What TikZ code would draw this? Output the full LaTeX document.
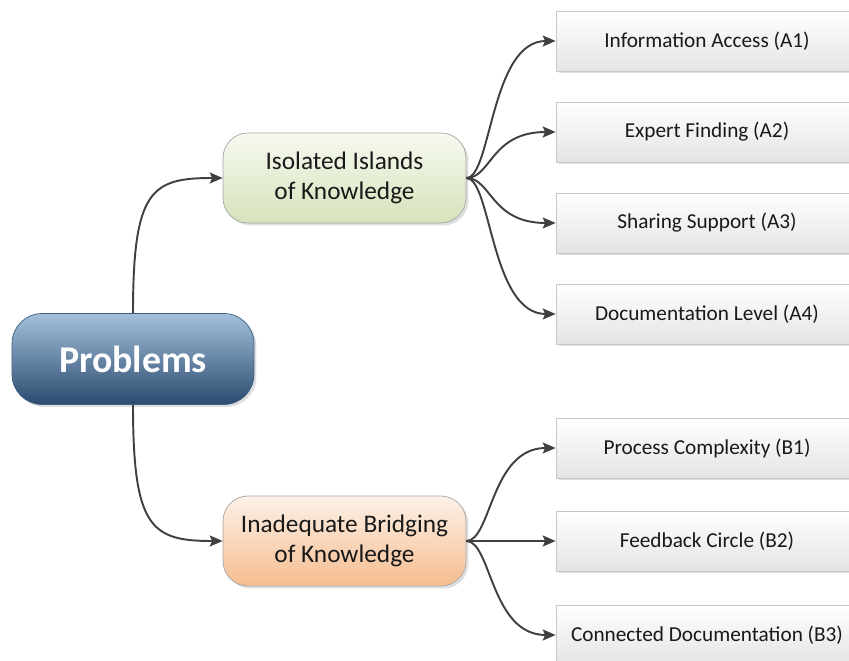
\documentclass[tikz,border=0pt]{standalone}
\usepackage{fontspec}
\setmainfont{Carlito}
\usetikzlibrary{arrows.meta,shadows}
\definecolor{probtop}{HTML}{A3BFDA}
\definecolor{probbot}{HTML}{2B4C70}
\definecolor{probline}{HTML}{3F6185}
\definecolor{isltop}{HTML}{F6F9F0}
\definecolor{islbot}{HTML}{D6E3BB}
\definecolor{inadtop}{HTML}{FDF1E7}
\definecolor{inadbot}{HTML}{F5BD90}
\definecolor{leafbot}{HTML}{E4E4E4}
\definecolor{linegray}{HTML}{404040}
\tikzset{
	shadowed/.style={drop shadow={shadow xshift=0.05cm,shadow yshift=-0.05cm,opacity=0.25}},
	rootbox/.style={shadowed,draw=probline,rounded corners=0.6cm,top color=probtop,bottom color=probbot,
		minimum width=4.84cm,minimum height=1.82cm,text=white,font=\fontsize{21.5}{26}\selectfont\bfseries},
	groupbox/.style={shadowed,draw=black!35,rounded corners=0.5cm,minimum width=4.86cm,minimum height=1.8cm,
		align=center,text=black!90,font=\fontsize{14.4}{17}\selectfont},
	leafbox/.style={shadowed,draw=black!22,top color=white,bottom color=leafbot,minimum width=6.04cm,
		minimum height=1.2cm,text=black!90,font=\fontsize{12.1}{14}\selectfont},
	conn/.style={draw=linegray,line width=1.1pt,-{Stealth[length=0.26cm,width=0.22cm,inset=0.05cm]}}
}
\begin{document}
\begin{tikzpicture}[x=0.02cm,y=0.02cm]
	\useasboundingbox (0,0) rectangle (849,660);
	% root
		\node[rootbox] (prob) at (133,301) {Problems};
	% groups
		\node[groupbox,top color=isltop,bottom color=islbot] (isl) at (344.5,482) {Isolated Islands\\of Knowledge};
		\node[groupbox,top color=inadtop,bottom color=inadbot] (inad) at (344.5,119) {Inadequate Bridging\\of Knowledge};
	% leaves
		\foreach \name/\y/\txt in {a1/619/Information Access (A1),a2/528/Expert Finding (A2),
			a3/437/Sharing Support (A3),a4/346/Documentation Level (A4),b1/212/Process Complexity (B1),
			b2/119/Feedback Circle (B2),b3/25/Connected Documentation (B3)}
			\node[leafbox] (\name) at (707,\y) {\txt};
	% connectors
		\draw[conn] (prob.north) .. controls +(0,124) and +(-71,0) .. (isl.west);
		\draw[conn] (prob.south) .. controls +(0,-124) and +(-71,0) .. (inad.west);
		\foreach \name in {a1,a2,a3,a4}
			\draw[conn] (isl.east) .. controls +(25,0) and +(-65,0) .. (\name.west);
		\foreach \name in {b1,b2,b3}
			\draw[conn] (inad.east) .. controls +(25,0) and +(-65,0) .. (\name.west);
\end{tikzpicture}
\end{document}
